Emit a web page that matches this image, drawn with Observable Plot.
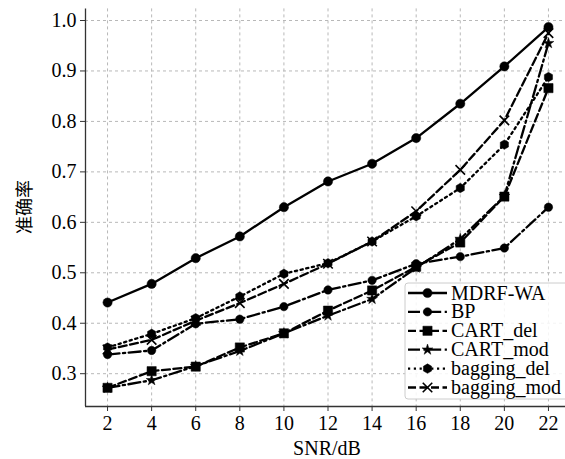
<!DOCTYPE html>
<html><head><meta charset="utf-8">
<script src="https://cdn.jsdelivr.net/npm/d3@7"></script>
<script src="https://cdn.jsdelivr.net/npm/@observablehq/plot@0.6"></script>
<style>body{margin:0;background:#fff}#chart{width:565px;height:459px}</style>
</head><body><div id="chart"></div>
<script>
const snr = [2, 4, 6, 8, 10, 12, 14, 16, 18, 20, 22];
const mdrfWA     = [0.441, 0.478, 0.529, 0.572, 0.630, 0.681, 0.716, 0.767, 0.835, 0.909, 0.987];
const bp         = [0.338, 0.346, 0.399, 0.408, 0.433, 0.466, 0.485, 0.518, 0.532, 0.549, 0.630];
const cartDel    = [0.272, 0.305, 0.314, 0.352, 0.380, 0.425, 0.465, 0.512, 0.560, 0.651, 0.866];
const cartMod    = [0.272, 0.287, 0.315, 0.345, 0.380, 0.415, 0.448, 0.510, 0.567, 0.652, 0.955];
const baggingDel = [0.352, 0.379, 0.410, 0.453, 0.498, 0.519, 0.562, 0.612, 0.668, 0.754, 0.888];
const baggingMod = [0.348, 0.367, 0.405, 0.440, 0.478, 0.518, 0.562, 0.622, 0.704, 0.802, 0.975];
const methods = ["MDRF-WA", "BP", "CART_del", "CART_mod", "bagging_del", "bagging_mod"];
const seriesValues = [mdrfWA, bp, cartDel, cartMod, baggingDel, baggingMod];
const xTicks = [2, 4, 6, 8, 10, 12, 14, 16, 18, 20, 22];
const yTicks = [0.3, 0.4, 0.5, 0.6, 0.7, 0.8, 0.9, 1.0];
const xLabel = "SNR/dB";
const yLabel = "准确率";

const xDomain = [1, 23];
const yDomain = [0.235, 1.023];

const symbolHexagon = {
  draw(ctx, size) {
    const r = Math.sqrt(size / Math.PI) * 1.1;
    for (let i = 0; i < 6; i++) {
      const a = -Math.PI / 2 + i * Math.PI / 3;
      const px = r * Math.cos(a), py = r * Math.sin(a);
      if (i === 0) ctx.moveTo(px, py); else ctx.lineTo(px, py);
    }
    ctx.closePath();
  }
};

const styles = {
  "MDRF-WA":     {dash: null,              symbol: d3.symbolCircle, r: 4.6, fill: true},
  "BP":          {dash: "12,3.5,2.2,3.5",  symbol: d3.symbolCircle, r: 4.2, fill: true},
  "CART_del":    {dash: "8,3.5",           symbol: d3.symbolSquare, r: 5.2, fill: true},
  "CART_mod":    {dash: "12,3.5,2.2,3.5",  symbol: d3.symbolStar,   r: 3.4, fill: true},
  "bagging_del": {dash: "2.2,3.6",         symbol: symbolHexagon,   r: 4.3, fill: true},
  "bagging_mod": {dash: "8,3.5",           symbol: d3.symbolTimes,  r: 4.4, fill: false}
};

const rows = [];
methods.forEach((m, i) => snr.forEach((s, j) => rows.push({method: m, snr: s, acc: seriesValues[i][j]})));

const seriesMarks = [];
methods.forEach(m => {
  const st = styles[m];
  const d = rows.filter(r => r.method === m);
  seriesMarks.push(Plot.line(d, {x: "snr", y: "acc", stroke: "black", strokeWidth: 2.3,
    strokeDasharray: st.dash ?? undefined, strokeLinejoin: "round"}));
});
methods.forEach(m => {
  const st = styles[m];
  const d = rows.filter(r => r.method === m);
  seriesMarks.push(Plot.dot(d, st.fill
    ? {x: "snr", y: "acc", symbol: () => st.symbol, r: st.r, fill: "black", stroke: "black", strokeWidth: 0.5}
    : {x: "snr", y: "acc", symbol: () => st.symbol, r: st.r, fill: "none", stroke: "black", strokeWidth: 1.6}));
});

const W = 565, H = 459;
const chart = Plot.plot({
  width: W, height: H,
  marginLeft: 85, marginRight: -5, marginTop: 8.4, marginBottom: 53,
  style: {fontFamily: "'Liberation Serif', 'Times New Roman', serif", fontSize: "20px", background: "white", color: "black"},
  x: {domain: xDomain},
  y: {domain: yDomain},
  symbol: {type: "identity"},
  marks: [
    Plot.gridX(xTicks, {stroke: "#b8b8b8", strokeOpacity: 1, strokeDasharray: "3,3", strokeWidth: 1}),
    Plot.gridY(yTicks, {stroke: "#b8b8b8", strokeOpacity: 1, strokeDasharray: "3,3", strokeWidth: 1}),
    Plot.axisX({ticks: xTicks, tickSize: 5, tickPadding: 4, label: null, stroke: "#333", fill: "black"}),
    Plot.axisY({ticks: yTicks, tickFormat: d3.format(".1f"), tickSize: 5, tickPadding: 4, label: null, stroke: "#333", fill: "black"}),
    Plot.ruleX([xDomain[0]], {stroke: "#333", strokeWidth: 1.3}),
    Plot.ruleY([yDomain[0]], {stroke: "#333", strokeWidth: 1.3}),
    ...seriesMarks
  ]
});
document.getElementById("chart").appendChild(chart);

const svg = d3.select(chart);
svg.attr("overflow", "hidden");
// axis labels
svg.append("text").attr("x", 327).attr("y", 455).attr("text-anchor", "middle")
  .style("font-family", "'Liberation Serif', serif").style("font-size", "20px").text(xLabel);
svg.append("text").attr("transform", "translate(31,207) rotate(-90)").attr("text-anchor", "middle")
  .style("font-family", "'Noto Sans CJK SC', sans-serif").style("font-size", "18px").text(yLabel);

// legend
const lg = svg.append("g").attr("transform", "translate(405,283)");
lg.append("rect").attr("x", 0).attr("y", 0).attr("width", 170).attr("height", 116).attr("rx", 3)
  .attr("fill", "white").attr("fill-opacity", 0.85).attr("stroke", "#cccccc").attr("stroke-width", 1);
methods.forEach((m, i) => {
  const st = styles[m];
  const cy = 10 + i * 18.9;
  lg.append("line").attr("x1", 3).attr("x2", 42).attr("y1", cy).attr("y2", cy)
    .attr("stroke", "black").attr("stroke-width", 2.3).attr("stroke-dasharray", st.dash);
  const sym = d3.symbol(st.symbol, st.r * st.r * Math.PI);
  lg.append("path").attr("d", sym()).attr("transform", `translate(22.5,${cy})`)
    .attr("fill", st.fill ? "black" : "none").attr("stroke", "black").attr("stroke-width", st.fill ? 0.5 : 1.6);
  lg.append("text").attr("x", 46).attr("y", cy + 6.5).attr("text-anchor", "start")
    .style("font-family", "'Liberation Serif', serif").style("font-size", "20px").text(m);
});
</script>
</body></html>
